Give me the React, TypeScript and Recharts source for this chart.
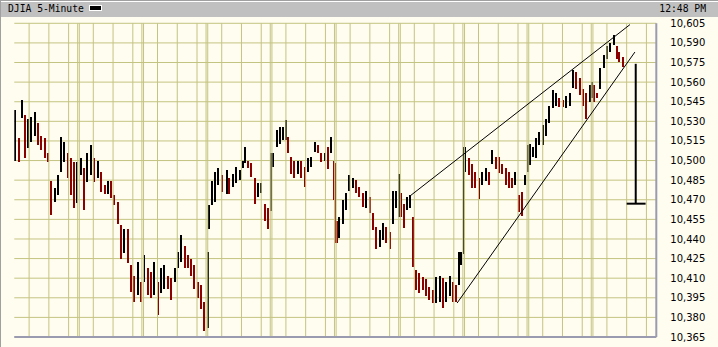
import React from 'react';
import { ComposedChart, Bar, XAxis, YAxis, CartesianGrid, ReferenceLine } from 'recharts';

// 5-minute bar index (78 bars per session, 10 sessions)
const barIdx = [
  1, 6, 9, 13, 17, 20, 25, 29, 33, 37, 41, 45, 49, 53, 57, 61, 65, 69, 73, 76,
  81, 85, 89, 93, 97, 102, 105, 110, 114, 117, 121, 126, 130, 133, 138, 142, 145, 150, 154,
  158, 162, 166, 170, 175, 178, 182, 187, 190, 195, 199, 203, 207, 211, 215, 219, 223, 227, 231,
  235, 237, 240, 244, 248, 252, 258, 261, 266, 269, 274, 278, 280, 284, 288, 292, 296, 300, 305, 308, 312,
  315, 319, 323, 326, 330, 333, 336, 340, 345, 348, 353, 357, 360, 365, 369, 373, 377, 381, 385, 388, 390,
  392, 395, 399, 403, 407, 411, 415, 419, 424, 427, 432, 436, 439, 444, 448, 452, 456, 460, 464, 467,
  470, 473, 477, 481, 484, 488, 492, 497, 500, 504, 509, 512, 517, 521, 524, 529, 533, 537, 540, 543, 546,
  548, 552, 556, 560, 565, 568, 573, 577, 580, 585, 589, 593, 597, 601, 605, 609, 613, 617, 621, 624,
  627, 630, 634, 638, 642, 646, 650, 655, 658, 662, 667, 670, 675, 679, 682, 687, 691, 695, 699, 702,
  705, 708, 712, 716, 720, 724, 729, 732, 735, 740,
];

const highs = [
  10539, 10517, 10546, 10535, 10532, 10533, 10537, 10529, 10519, 10517, 10506, 10484, 10479, 10489, 10518, 10514, 10506, 10502, 10499, 10499,
  10502, 10494, 10506, 10512, 10502, 10500, 10491, 10481, 10484, 10484, 10474, 10468, 10451, 10448, 10448, 10420, 10412, 10422, 10407,
  10428, 10418, 10415, 10422, 10407, 10418, 10420, 10412, 10410, 10418, 10430, 10443, 10435, 10428, 10425, 10420, 10407, 10405, 10392,
  10430, 10466, 10484, 10491, 10494, 10489, 10493, 10487, 10490, 10495, 10493, 10500, 10510, 10500, 10498, 10487, 10483, 10483, 10467, 10464, 10506,
  10506, 10523, 10526, 10526, 10531, 10518, 10503, 10500, 10500, 10500, 10495, 10502, 10503, 10514, 10512, 10506, 10506, 10510, 10518, 10500, 10498,
  10454, 10457, 10470, 10475, 10489, 10487, 10485, 10480, 10475, 10477, 10472, 10460, 10449, 10447, 10452, 10449, 10445, 10477, 10477, 10490,
  10475, 10467, 10472, 10474, 10457, 10416, 10414, 10411, 10409, 10403, 10401, 10411, 10412, 10410, 10407, 10412, 10407, 10405, 10430, 10430, 10510,
  10510, 10502, 10497, 10491, 10487, 10491, 10494, 10491, 10508, 10503, 10503, 10497, 10494, 10491, 10487, 10491, 10474, 10476, 10489, 10512,
  10513, 10510, 10517, 10522, 10527, 10532, 10542, 10554, 10552, 10548, 10546, 10549, 10552, 10569, 10568, 10563, 10555, 10552, 10558, 10560,
  10558, 10552, 10571, 10581, 10588, 10590, 10596, 10588, 10583, 10579,
];

const lows = [
  10500, 10499, 10532, 10502, 10510, 10514, 10519, 10512, 10508, 10502, 10499, 10458, 10468, 10474, 10491, 10499, 10487, 10474, 10464, 10468,
  10489, 10462, 10484, 10489, 10484, 10487, 10476, 10474, 10474, 10471, 10466, 10451, 10425, 10430, 10422, 10399, 10392, 10397, 10392,
  10407, 10397, 10395, 10397, 10382, 10399, 10402, 10402, 10393, 10407, 10418, 10422, 10418, 10418, 10412, 10402, 10395, 10387, 10370,
  10372, 10448, 10466, 10468, 10481, 10476, 10475, 10475, 10480, 10483, 10485, 10495, 10498, 10495, 10487, 10467, 10472, 10475, 10454, 10448, 10462,
  10495, 10510, 10513, 10516, 10516, 10506, 10490, 10487, 10490, 10487, 10480, 10491, 10495, 10506, 10506, 10499, 10500, 10493, 10506, 10470, 10437,
  10437, 10441, 10452, 10462, 10477, 10479, 10475, 10472, 10464, 10464, 10460, 10447, 10432, 10434, 10439, 10437, 10432, 10452, 10464, 10457,
  10457, 10449, 10462, 10464, 10419, 10401, 10399, 10401, 10396, 10393, 10391, 10391, 10392, 10387, 10392, 10397, 10392, 10392, 10405, 10420, 10428,
  10491, 10489, 10479, 10479, 10471, 10481, 10484, 10481, 10497, 10494, 10491, 10489, 10481, 10479, 10479, 10481, 10461, 10458, 10481, 10491,
  10497, 10502, 10502, 10512, 10512, 10519, 10529, 10540, 10542, 10541, 10541, 10540, 10542, 10555, 10555, 10550, 10542, 10532, 10545, 10548,
  10545, 10548, 10555, 10571, 10578, 10583, 10588, 10578, 10575, 10571,
];

const yTicks = [10365, 10380, 10395, 10410, 10425, 10440, 10455, 10470, 10485, 10500, 10515, 10530, 10545, 10560, 10575, 10590, 10605];

// channel lines and projected target drawn on the chart
const upperTrend = [{ x: 481, y: 10473 }, { x: 748, y: 10604 }];
const lowerTrend = [{ x: 538, y: 10391 }, { x: 754, y: 10583 }];
const targetStem = [{ x: 755, y: 10574 }, { x: 755, y: 10467 }];
const targetCap = [{ x: 744, y: 10467 }, { x: 767, y: 10467 }];

const BARS_PER_DAY = 78;
const DAYS = 10;
const hourMarks = [18, 42, 66]; // 11:00, 13:00, 15:00

const data = barIdx.map((i, k) => ({
  i,
  range: [lows[k], highs[k]],
  up: k === 0 || highs[k] + lows[k] >= highs[k - 1] + lows[k - 1],
}));

const gridX: number[] = [];
for (let d = 0; d < DAYS; d++) {
  const base = d * BARS_PER_DAY;
  if (d > 0) gridX.push(base - 1, base + 1);
  hourMarks.forEach((h) => gridX.push(base + h));
}

const GRID = '#c4c482';
const BG = '#fffcf0';

// high-low stroke, snapped to whole pixels so it stays crisp
const PriceBar = (props: any) => {
  const { x, y, width, height, payload } = props;
  const top = height < 0 ? y + height : y;
  const h = Math.max(Math.abs(height), 1);
  const left = Math.round(x + width / 2) - 1;
  return <rect x={left} y={Math.round(top)} width={2} height={Math.round(h)} fill={payload.up ? '#000000' : '#8b0000'} />;
};

const fmt = (v: number) => v.toLocaleString('en-US');

export default function App() {
  return (
    <div style={{ position: 'absolute', left: 0, top: 0, width: 718, height: 347, background: BG, overflow: 'hidden', borderLeft: '1px solid #a0a0a0', boxSizing: 'border-box' }}>
      <div
        style={{
          position: 'absolute', left: 0, top: 0, width: 718, height: 17, background: '#c0c0c0',
          borderTop: '1px solid #a0a0a0', boxSizing: 'border-box', boxShadow: 'inset 0 1px 0 #ffffff',
          fontFamily: '"DejaVu Sans Mono", monospace', fontSize: 9.7, color: '#000',
        }}
      >
        <span style={{ position: 'absolute', left: 7, top: 2 }}>DJIA 5-Minute</span>
        <span style={{ position: 'absolute', left: 88, top: 4, width: 13, height: 6, background: '#000', border: '1px solid #fff', boxSizing: 'border-box' }} />
        <span style={{ position: 'absolute', right: 13, top: 2 }}>12:48 PM</span>
      </div>
      <div style={{ position: 'absolute', left: -1, top: 0 }}>
        <ComposedChart width={718} height={347} data={data} margin={{ top: 23.3, right: 12, bottom: 10, left: 14.3 }}>
          <CartesianGrid horizontal vertical={false} stroke={GRID} strokeWidth={1} />
          <XAxis type="number" dataKey="i" domain={[0, 780]} hide allowDataOverflow />
          <YAxis
            orientation="right"
            width={49.7}
            domain={[10365, 10605]}
            ticks={yTicks}
            interval={0}
            allowDataOverflow
            axisLine={false}
            tickLine={false}
            tickMargin={8}
            tickFormatter={fmt}
            tick={{ fill: '#000', fontSize: 10, fontFamily: '"DejaVu Sans", sans-serif' }}
          />
          {gridX.map((gx) => (
            <ReferenceLine key={gx} x={gx} stroke={GRID} strokeWidth={1} />
          ))}
          <ReferenceLine x={780} stroke="#9a9ab0" strokeWidth={2} />
          <ReferenceLine y={10365} stroke="#9a9ab0" strokeWidth={2} />
          <Bar dataKey="range" barSize={2} shape={PriceBar} isAnimationActive={false} />
          <ReferenceLine segment={upperTrend} stroke="#000" strokeWidth={1} />
          <ReferenceLine segment={lowerTrend} stroke="#000" strokeWidth={1} />
          <ReferenceLine segment={targetStem} stroke="#000" strokeWidth={2} />
          <ReferenceLine segment={targetCap} stroke="#000" strokeWidth={2} />
        </ComposedChart>
      </div>
    </div>
  );
}
